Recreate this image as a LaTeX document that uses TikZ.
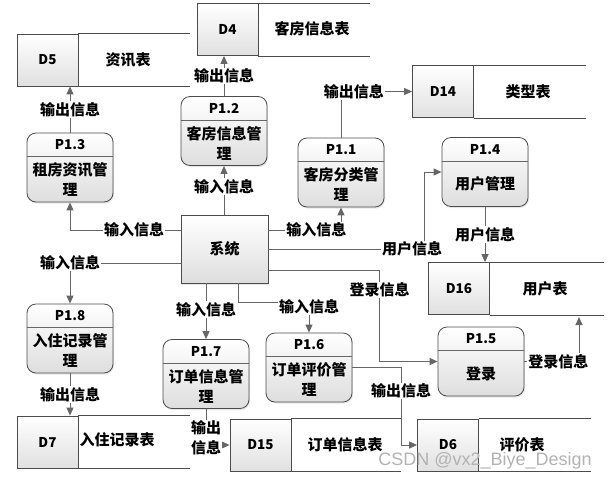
\documentclass[tikz,border=0pt]{standalone}
\usepackage{fontspec}
\newfontfamily\cjk{Noto Sans CJK SC}
\newfontfamily\wmfont{Liberation Sans}
\usetikzlibrary{positioning,arrows.meta,shadows}
\tikzset{procnode/.style={rectangle, rounded corners=9pt, draw=black!70, top color=white, bottom color=black!13, thick, minimum width=86pt, minimum height=69pt, drop shadow={opacity=0.2, shadow xshift=1pt, shadow yshift=-1.5pt}},
sysnode/.style={rectangle, draw=black!70, top color=white, bottom color=black!13, thick, minimum width=87pt, minimum height=68pt, drop shadow={opacity=0.2, shadow xshift=1pt, shadow yshift=-1.5pt}, font=\cjk\bfseries\fontsize{15}{17}\selectfont},
storenode/.style={rectangle, draw=black!70, top color=white, bottom color=black!12, thick, minimum width=61pt, minimum height=52pt, font=\cjk\bfseries\fontsize{13.5}{15}\selectfont},
storeline/.style={draw=black!70, thick},
storetext/.style={font=\cjk\bfseries\fontsize{15}{17}\selectfont},
idtext/.style={font=\cjk\bfseries\fontsize{13.5}{15}\selectfont},
bodytext/.style={align=center, font=\cjk\bfseries\fontsize{15}{20}\selectfont},
hdr/.style={draw=black!60, thick},
flow/.style={draw=black!60, line width=1pt, -{Triangle[length=8pt, width=7pt]}},
lbl/.style={fill=white, inner sep=1pt, align=center, font=\cjk\bfseries\fontsize{15}{20}\selectfont},}
\begin{document}
\begin{tikzpicture}[x=1pt, y=-1pt]
\useasboundingbox (0,0) rectangle (609,480);
% data stores
\node [storenode] (d5) at (47.5,60) {D5};
\draw [storeline] (d5.north east) -- ++(112,0) (d5.south east) -- ++(112,0);
\node [storetext] (d5n) at (128,60) {资讯表};
\node [storenode] (d4) at (227.5,29.5) {D4};
\draw [storeline] (d4.north east) -- ++(112,0) (d4.south east) -- ++(112,0);
\node [storetext] (d4n) at (312,29) {客房信息表};
\node [storenode] (d14) at (443,91.5) {D14};
\draw [storeline] (d14.north east) -- ++(112,0) (d14.south east) -- ++(112,0);
\node [storetext] (d14n) at (528,92) {类型表};
\node [storenode] (d16) at (459,288.5) {D16};
\draw [storeline] (d16.north east) -- ++(114,0) (d16.south east) -- ++(114,0);
\node [storetext] (d16n) at (545,289) {用户表};
\node [storenode] (d7) at (47.5,442) {D7};
\draw [storeline] (d7.north east) -- ++(112,0) (d7.south east) -- ++(112,0);
\node [storetext] (d7n) at (117,440) {入住记录表};
\node [storenode] (d15) at (260.5,445) {D15};
\draw [storeline] (d15.north east) -- ++(110,0) (d15.south east) -- ++(110,0);
\node [storetext] (d15n) at (345,445) {订单信息表};
\node [storenode] (d6) at (448,445) {D6};
\draw [storeline] (d6.north east) -- ++(112,0) (d6.south east) -- ++(112,0);
\node [storetext] (d6n) at (522,445) {评价表};
% system
\node [sysnode] (sys) at (224.5,249) {系统};
% processes
\node [procnode] (p13) at (70,167.5) {};
\node [idtext] at ([yshift=-12pt]p13.north) {P1.3};
\draw [hdr] ([yshift=-24pt]p13.north west) -- ([yshift=-24pt]p13.north east);
\node [bodytext] at ([yshift=-12pt]p13.center) {租房资讯管\\理};
\node [procnode] (p12) at (224,131) {};
\node [idtext] at ([yshift=-12pt]p12.north) {P1.2};
\draw [hdr] ([yshift=-24pt]p12.north west) -- ([yshift=-24pt]p12.north east);
\node [bodytext] at ([yshift=-12pt]p12.center) {客房信息管\\理};
\node [procnode] (p11) at (341,172.5) {};
\node [idtext] at ([yshift=-12pt]p11.north) {P1.1};
\draw [hdr] ([yshift=-24pt]p11.north west) -- ([yshift=-24pt]p11.north east);
\node [bodytext] at ([yshift=-12pt]p11.center) {客房分类管\\理};
\node [procnode] (p14) at (485,172) {};
\node [idtext] at ([yshift=-12pt]p14.north) {P1.4};
\draw [hdr] ([yshift=-24pt]p14.north west) -- ([yshift=-24pt]p14.north east);
\node [bodytext] at ([yshift=-12pt]p14.center) {用户管理};
\node [procnode] (p18) at (70,338.5) {};
\node [idtext] at ([yshift=-12pt]p18.north) {P1.8};
\draw [hdr] ([yshift=-24pt]p18.north west) -- ([yshift=-24pt]p18.north east);
\node [bodytext] at ([yshift=-12pt]p18.center) {入住记录管\\理};
\node [procnode] (p17) at (206,374) {};
\node [idtext] at ([yshift=-12pt]p17.north) {P1.7};
\draw [hdr] ([yshift=-24pt]p17.north west) -- ([yshift=-24pt]p17.north east);
\node [bodytext] at ([yshift=-12pt]p17.center) {订单信息管\\理};
\node [procnode] (p16) at (309,367.5) {};
\node [idtext] at ([yshift=-12pt]p16.north) {P1.6};
\draw [hdr] ([yshift=-24pt]p16.north west) -- ([yshift=-24pt]p16.north east);
\node [bodytext] at ([yshift=-12pt]p16.center) {订单评价管\\理};
\node [procnode] (p15) at (481,361.5) {};
\node [idtext] at ([yshift=-12pt]p15.north) {P1.5};
\draw [hdr] ([yshift=-24pt]p15.north west) -- ([yshift=-24pt]p15.north east);
\node [bodytext] at ([yshift=-12pt]p15.center) {登录};
\coordinate (d16in) at (579,317);
% flows
\draw [flow] (p13.north) -- node[lbl] {输出信息} (p13.north |- d5.south);
\draw [flow] ([yshift=19pt]sys.west) -| node[lbl, pos=0.21] {输入信息} (p13.south);
\draw [flow] ([yshift=-14pt]sys.west) -| node[lbl, pos=0.5] {输入信息} (p18.north);
\draw [flow] (p18.south) -- node[lbl] {输出信息} (p18.south |- d7.north);
\draw [flow] (p12.north) -- node[lbl] {输出信息} (p12.north |- d4.south);
\draw [flow] (sys.north -| p12) -- node[lbl, pos=0.58] {输入信息} (p12.south);
\draw [flow] ([yshift=19pt]sys.east) -| node[lbl, pos=0.33] {输入信息} (p11.south);
\draw [flow] (p11.north) |- node[lbl, pos=0.59] {输出信息} (d14.west);
\draw [flow] (sys.east) -| node[lbl, pos=0.46] {用户信息} ([xshift=-17pt]p14.west) -- (p14.west);
\draw [flow] (p14.south) -- node[lbl] {用户信息} (p14.south |- d16.north);
\draw [flow] ([yshift=-21pt]sys.east) -| node[lbl, pos=0.61] {登录信息} ([xshift=-58pt]p15.west) -- (p15.west);
\draw [flow] (p15.east) -| node[lbl, pos=0.31] {登录信息} (d16in);
\draw [flow] (sys.south -| p17) -- node[lbl, pos=0.47] {输入信息} (p17.north);
\draw [flow] ([xshift=14pt]sys.south) |- ([yshift=30pt]p16.north) -- node[lbl, pos=0.15] {输入信息} (p16.north);
\draw [flow] (p16.east) -| node[lbl, pos=0.65] {输出信息} ([xshift=-16pt]d6.west) -- (d6.west);
\draw [flow] (p17.south) |- node[lbl, pos=0.4] {输出\\信息} (d15.west);
% watermark
\node [text=black!30, font=\wmfont\fontsize{18}{20}\selectfont] (wm) at (485,461) {CSDN @vx2\_Biye\_Design};
\end{tikzpicture}
\end{document}
